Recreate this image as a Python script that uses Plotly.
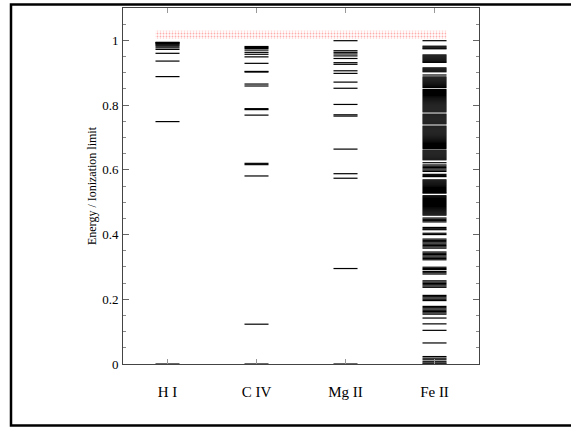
import plotly.graph_objects as go

# ---- data ----
ION_LABELS = ["H I", "C IV", "Mg II", "Fe II"]

H_I_LEVELS = [0.0, 0.749, 0.888, 0.936, 0.960, 0.972, 0.977, 0.982, 0.985,
              0.988, 0.990, 0.992, 0.993, 0.994]

C_IV_LEVELS = [0.0, 0.123, 0.581, 0.616, 0.620, 0.769, 0.786, 0.789, 0.859,
               0.865, 0.902, 0.904, 0.929, 0.949, 0.957, 0.963, 0.970, 0.975,
               0.978, 0.981]

MG_II_LEVELS = [0.0, 0.295, 0.574, 0.588, 0.664, 0.766, 0.770, 0.802, 0.852,
                0.871, 0.898, 0.906, 0.926, 0.931, 0.944, 0.952, 0.958, 0.963,
                0.968, 0.999]

FE_II_LEVELS = [
    0.999, 0.982, 0.979, 0.976, 0.974,
    0.955, 0.952, 0.949, 0.946, 0.943, 0.940, 0.937, 0.934, 0.932,
    0.915, 0.912, 0.909, 0.906, 0.903,
    0.893, 0.887, 0.884, 0.881, 0.878, 0.875, 0.872, 0.869, 0.866, 0.863,
    0.860, 0.857, 0.854,
    0.848, 0.845, 0.842, 0.839, 0.836, 0.833, 0.830, 0.827, 0.824, 0.821,
    0.818, 0.815, 0.812, 0.809, 0.806, 0.803, 0.800, 0.797, 0.794, 0.791,
    0.788, 0.785, 0.782, 0.779,
    0.772, 0.769, 0.766, 0.763, 0.760, 0.757, 0.754, 0.751, 0.748, 0.745, 0.742,
    0.735, 0.732, 0.729, 0.726, 0.723, 0.720, 0.717, 0.714, 0.711, 0.708,
    0.705, 0.702, 0.699, 0.696, 0.693, 0.690, 0.687, 0.684, 0.681, 0.678,
    0.675, 0.672, 0.669, 0.666, 0.661, 0.658, 0.655, 0.652, 0.649, 0.646,
    0.643, 0.640, 0.637, 0.634, 0.631,
    0.622, 0.615, 0.611, 0.607, 0.603, 0.599, 0.595,
    0.586, 0.582, 0.579,
    0.569, 0.566, 0.563, 0.560, 0.557, 0.554, 0.551, 0.548, 0.545, 0.542,
    0.539, 0.536, 0.533, 0.530, 0.528,
    0.520, 0.517, 0.514, 0.511, 0.508, 0.505, 0.502, 0.499, 0.496, 0.493,
    0.490, 0.487, 0.484, 0.481, 0.478, 0.475, 0.472, 0.469, 0.466, 0.463, 0.460,
    0.451, 0.447, 0.443, 0.439,
    0.422, 0.418, 0.415,
    0.404, 0.400,
    0.386, 0.382, 0.378, 0.374, 0.370, 0.366, 0.362, 0.358,
    0.346, 0.342, 0.338, 0.334, 0.330, 0.326, 0.322,
    0.299, 0.295, 0.292,
    0.286, 0.282, 0.278,
    0.257, 0.253, 0.249, 0.245, 0.241, 0.237,
    0.212, 0.208, 0.204, 0.200, 0.196,
    0.178, 0.174, 0.170, 0.166, 0.162, 0.158, 0.154,
    0.142, 0.124, 0.104, 0.065,
    0.023, 0.018, 0.013,
    0.007, 0.003, 0.0,
]

ALL_LEVELS = [H_I_LEVELS, C_IV_LEVELS, MG_II_LEVELS, FE_II_LEVELS]

CONTINUUM_LOW = 1.004
CONTINUUM_HIGH = 1.030

# ---- style ----
HALF_W = 0.135
SERIF = "Liberation Serif, Times New Roman, serif"

fig = go.Figure()

# continuum band (dotted red pattern)
x0 = 0 - HALF_W
x1 = len(ION_LABELS) - 1 + HALF_W
fig.add_trace(go.Scatter(
    x=[x0, x1, x1, x0, x0],
    y=[CONTINUUM_LOW, CONTINUUM_LOW, CONTINUUM_HIGH, CONTINUUM_HIGH, CONTINUUM_LOW],
    mode="lines", fill="toself", line=dict(width=0),
    fillcolor="rgba(0,0,0,0)",
    fillpattern=dict(shape=".", fgcolor="#ff5a5a", bgcolor="white",
                     size=3, solidity=0.3),
    hoverinfo="skip", showlegend=False,
))

for i, levels in enumerate(ALL_LEVELS):
    xs, ys = [], []
    for v in levels:
        xs += [i - HALF_W, i + HALF_W, None]
        ys += [v, v, None]
    fig.add_trace(go.Scatter(
        x=xs, y=ys, mode="lines",
        line=dict(color="black", width=1.2),
        name=ION_LABELS[i], showlegend=False, hoverinfo="skip",
    ))

W, H = 571, 427
L, R, T, B = 123, 92, 8, 63

def px_x(px):
    return (px - L) / (W - L - R)

def px_y(py):
    return (H - B - py) / (H - T - B)

fig.add_shape(type="rect", xref="paper", yref="paper",
              x0=px_x(11), x1=px_x(700), y0=px_y(425.5), y1=px_y(4.5),
              line=dict(color="black", width=2.5), fillcolor="rgba(0,0,0,0)",
              layer="above")

fig.update_layout(
    width=W, height=H,
    margin=dict(l=L, r=R, t=T, b=B),
    paper_bgcolor="white", plot_bgcolor="white",
    font=dict(family=SERIF, color="black"),
    xaxis=dict(
        range=[-0.5, len(ION_LABELS) - 0.5],
        tickvals=list(range(len(ION_LABELS))), ticktext=ION_LABELS,
        showgrid=False, zeroline=False,
        showline=True, linecolor="#444", linewidth=1, mirror="ticks",
        ticks="inside", ticklen=5, tickcolor="#999", tickwidth=1,
        tickfont=dict(family=SERIF, size=15, color="black"),
        ticklabelstandoff=14,
    ),
    yaxis=dict(
        range=[0, 1.1], dtick=0.2, tick0=0,
        showgrid=False, zeroline=False,
        showline=True, linecolor="#444", linewidth=1, mirror="ticks",
        ticks="inside", ticklen=6, tickcolor="#666", tickwidth=1,
        minor=dict(dtick=0.05, ticks="inside", ticklen=3, tickcolor="#888",
                   showgrid=False),
        tickfont=dict(family=SERIF, size=13, color="black"),
        ticklabelstandoff=1,
        title=dict(text="Energy / Ionization limit",
                   font=dict(family=SERIF, size=12, color="black"),
                   standoff=2),
    ),
)

fig.write_html(
    "out.html",
    config={"displayModeBar": False, "staticPlot": True},
    post_script="document.body.style.margin='0';document.body.style.overflow='hidden';",
)
